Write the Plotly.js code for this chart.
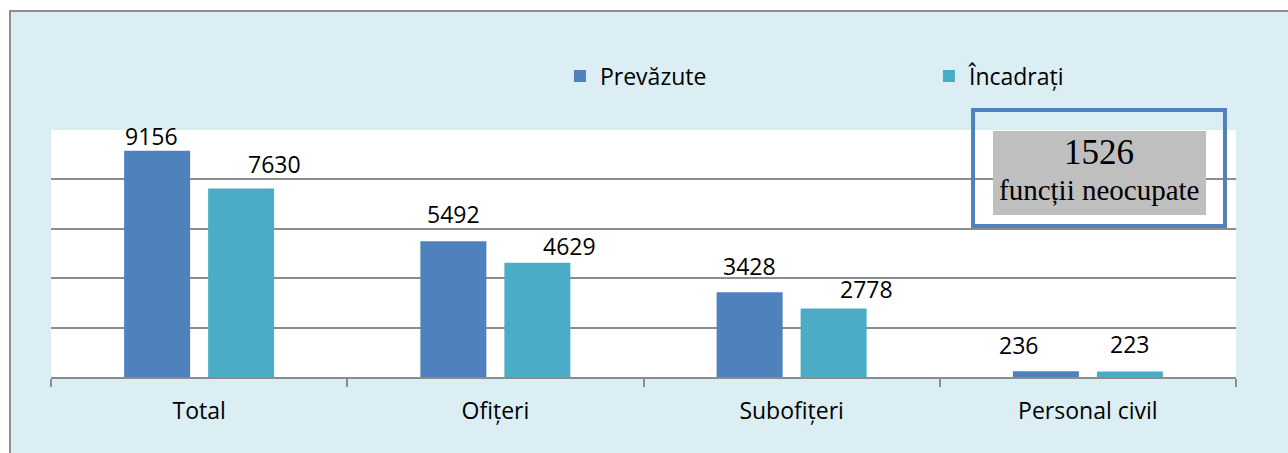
<!DOCTYPE html>
<html>
<head>
<meta charset="utf-8">
<script src="https://cdn.plot.ly/plotly-3.0.1.min.js"></script>
<style>
  html, body { margin: 0; padding: 0; background: #ffffff; }
  #frame { position: absolute; left: 9px; top: 10px; width: 1279px; height: 443px;
           border-left: 2px solid #8e8e8e; border-top: 2px solid #8e8e8e; box-sizing: border-box;
           background: #DBEEF3; overflow: hidden; }
  #chart { width: 1277px; height: 441px; }
</style>
</head>
<body>
<div id="frame"><div id="chart"></div></div>
<script>
// ---- data ----
const categories = ["Total", "Ofițeri", "Subofițeri", "Personal civil"];
const seriesNames = ["Prevăzute", "Încadrați"];
const prevazute = [9156, 5492, 3428, 236];
const incadrati = [7630, 4629, 2778, 223];
const calloutNumber = "1526";
const calloutText = "funcții neocupate";

// ---- styles / label placement (pixels) ----
const colors = ["#4F81BD", "#4BACC6"];
const barOffsetPx = 42;
const labelDx = [[-5.5, 0, 0, -27], [33, 32, 33, 0]];
const labelDy = [[14.5, 27, 26.5, 26], [24.5, 16.5, 19.5, 27]];
const FONT = "Open Sans, Noto Sans, sans-serif";

const seriesValues = [prevazute, incadrati];

const traces = seriesValues.map((vals, i) => ({
  type: "bar",
  name: seriesNames[i],
  x: categories,
  y: vals,
  marker: { color: colors[i], line: { width: 0 } },
  hoverinfo: "x+y+name"
}));

const annotations = [];
seriesValues.forEach((vals, s) => {
  vals.forEach((v, k) => {
    annotations.push({
      xref: "x", yref: "y",
      x: categories[k], y: v,
      text: String(v),
      showarrow: false,
      xanchor: "center", yanchor: "middle",
      xshift: (s === 0 ? -barOffsetPx : barOffsetPx) + labelDx[s][k],
      yshift: labelDy[s][k],
      font: { family: FONT, size: 23, color: "#000000" }
    });
  });
});

annotations.push({
  xref: "paper", yref: "paper", x: 0.8848, y: 0.9089,
  text: calloutNumber, showarrow: false, xanchor: "center", yanchor: "middle",
  font: { family: "Liberation Serif, Times New Roman, serif", size: 35, color: "#000000" }
});
annotations.push({
  xref: "paper", yref: "paper", x: 0.8848, y: 0.757,
  text: calloutText, showarrow: false, xanchor: "center", yanchor: "middle",
  font: { family: "Liberation Serif, Times New Roman, serif", size: 29, color: "#000000" }
});

const shapes = [
  { type: "rect", xref: "paper", yref: "paper", x0: 0.7949, x1: 0.9747, y0: 0.6559, y1: 0.996,
    fillcolor: "#BFBFBF", line: { width: 0 }, layer: "above" },
  { type: "rect", xref: "paper", yref: "paper", x0: 0.7781, x1: 0.9907, y0: 0.6113, y1: 1.081,
    fillcolor: "rgba(0,0,0,0)", line: { color: "#4F81BD", width: 4 }, layer: "above" }
];

const layout = {
  width: 1277, height: 441,
  margin: { l: 40, r: 52, t: 118, b: 76, pad: 0, autoexpand: false },
  paper_bgcolor: "#DBEEF3",
  plot_bgcolor: "#FFFFFF",
  barmode: "group",
  bargap: 0.4329,
  bargroupgap: 0.2143,
  showlegend: true,
  legend: {
    orientation: "h", x: 0.4295, xanchor: "left", y: 1.2186, yanchor: "middle",
    bgcolor: "rgba(0,0,0,0)", entrywidth: 324, entrywidthmode: "pixels",
    font: { family: FONT, size: 23, color: "#000000" }
  },
  xaxis: {
    type: "category",
    showgrid: false,
    showline: true, linecolor: "#8c8c8c", linewidth: 2,
    ticks: "outside", tickson: "boundaries", ticklen: 8, tickwidth: 2, tickcolor: "#8c8c8c",
    ticklabelstandoff: 12,
    tickfont: { family: FONT, size: 23, color: "#000000" },
    fixedrange: true
  },
  yaxis: {
    range: [0, 10000], dtick: 2000, tick0: 0,
    showgrid: true, gridcolor: "#8c8c8c", gridwidth: 2,
    showticklabels: false, ticks: "", zeroline: false, showline: false,
    fixedrange: true
  },
  annotations: annotations,
  shapes: shapes
};

Plotly.newPlot("chart", traces, layout, { displayModeBar: false, staticPlot: true });
</script>
</body>
</html>
